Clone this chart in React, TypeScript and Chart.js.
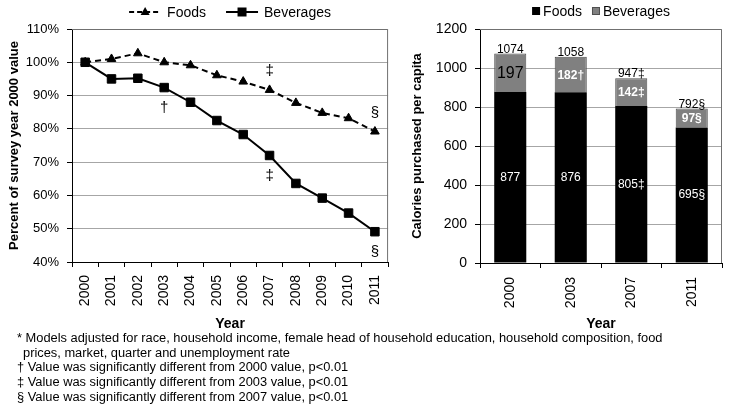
import React, { useEffect, useRef } from 'react';
import { Chart, registerables } from 'chart.js';

Chart.register(...registerables);

const FONT = 'Arial, "Liberation Sans", Helvetica, sans-serif';

// ---- Left chart data (percent of 2000 value) ----
const years = ['2000', '2001', '2002', '2003', '2004', '2005', '2006', '2007', '2008', '2009', '2010', '2011'];
const foodsPct = [100, 101.0, 102.7, 100.0, 99.1, 96.1, 94.2, 91.7, 87.8, 84.8, 83.2, 79.2];
const beveragesPct = [100, 95.0, 95.2, 92.4, 88.0, 82.5, 78.3, 72.0, 63.6, 59.2, 54.7, 49.1];
const pctMin = 40;
const pctMax = 110;
const pctStep = 10;

// significance markers: [seriesIndex, pointIndex, symbol, side]
const lineMarkSeries = [0, 0, 1, 1, 1];
const lineMarkIndex = [7, 11, 3, 7, 11];
const lineMarkText = ['‡', '§', '†', '‡', '§'];
const lineMarkSide = ['above', 'above', 'below', 'below', 'below'];

// ---- Right chart data (calories per capita) ----
const barYears = ['2000', '2003', '2007', '2011'];
const foodsCal = [877, 876, 805, 695];
const beveragesCal = [197, 182, 142, 97];
const foodsCalLabels = ['877', '876', '805‡', '695§'];
const beveragesCalLabels = ['197', '182†', '142‡', '97§'];
const totalCalLabels = ['1074', '1058', '947‡', '792§'];
const calMax = 1200;
const calStep = 200;

const footnotes = [
  '* Models adjusted for race, household income, female head of household education, household composition, food',
  'prices, market, quarter and unemployment rate',
  '† Value was significantly different from 2000 value, p<0.01',
  '‡ Value was significantly different from 2003 value, p<0.01',
  '§ Value was significantly different from 2007 value, p<0.01',
];

const GRID = '#a6a6a6';
const FRAME = '#707070';

const framePlugin = {
  id: 'frame',
  afterDraw(chart: any) {
    const { ctx, chartArea } = chart;
    ctx.save();
    ctx.strokeStyle = FRAME;
    ctx.lineWidth = 1;
    ctx.beginPath();
    ctx.moveTo(chartArea.left, chartArea.top + 0.5);
    ctx.lineTo(chartArea.right - 0.5, chartArea.top + 0.5);
    ctx.lineTo(chartArea.right - 0.5, chartArea.bottom);
    ctx.stroke();
    ctx.restore();
  },
};

const lineLegendPlugin = {
  id: 'lineLegend',
  afterDraw(chart: any) {
    const { ctx, chartArea } = chart;
    ctx.save();
    ctx.font = `14px ${FONT}`;
    const lineLen = 32;
    const gapAfterLine = 6;
    const gapBetween = 20;
    const w1 = ctx.measureText('Foods').width;
    const w2 = ctx.measureText('Beverages').width;
    const total = lineLen + gapAfterLine + w1 + gapBetween + lineLen + gapAfterLine + w2;
    let x = (chartArea.left + chartArea.right) / 2 - total / 2;
    const y = 12;
    // Foods
    ctx.strokeStyle = '#000';
    ctx.fillStyle = '#000';
    ctx.lineWidth = 2;
    ctx.setLineDash([5, 3]);
    ctx.beginPath();
    ctx.moveTo(x, y);
    ctx.lineTo(x + lineLen, y);
    ctx.stroke();
    ctx.setLineDash([]);
    const cx1 = x + lineLen / 2;
    ctx.beginPath();
    ctx.moveTo(cx1, y - 5);
    ctx.lineTo(cx1 + 4.5, y + 3);
    ctx.lineTo(cx1 - 4.5, y + 3);
    ctx.closePath();
    ctx.fill();
    x += lineLen + gapAfterLine;
    ctx.textBaseline = 'middle';
    ctx.textAlign = 'left';
    ctx.fillText('Foods', x, y + 1);
    x += w1 + gapBetween;
    // Beverages
    ctx.beginPath();
    ctx.moveTo(x, y);
    ctx.lineTo(x + lineLen, y);
    ctx.stroke();
    const cx2 = x + lineLen / 2;
    ctx.fillRect(cx2 - 4.5, y - 4.5, 9, 9);
    x += lineLen + gapAfterLine;
    ctx.fillText('Beverages', x, y + 1);
    ctx.restore();
  },
};

const lineMarksPlugin = {
  id: 'lineMarks',
  afterDatasetsDraw(chart: any) {
    const { ctx } = chart;
    ctx.save();
    ctx.font = `15px ${FONT}`;
    ctx.fillStyle = '#000';
    ctx.textAlign = 'center';
    ctx.textBaseline = 'middle';
    for (let i = 0; i < lineMarkText.length; i++) {
      const el = chart.getDatasetMeta(lineMarkSeries[i]).data[lineMarkIndex[i]];
      const dy = lineMarkSide[i] === 'above' ? -19 : 20;
      ctx.fillText(lineMarkText[i], el.x, el.y + dy);
    }
    ctx.restore();
  },
};

const barLegendPlugin = {
  id: 'barLegend',
  afterDraw(chart: any) {
    const { ctx, chartArea } = chart;
    ctx.save();
    ctx.font = `14px ${FONT}`;
    const box = 8;
    const gap = 3;
    const between = 10;
    const w1 = ctx.measureText('Foods').width;
    const w2 = ctx.measureText('Beverages').width;
    const total = box + gap + w1 + between + box + gap + w2;
    let x = (chartArea.left + chartArea.right) / 2 - total / 2;
    const y = 11;
    ctx.textBaseline = 'middle';
    ctx.textAlign = 'left';
    ctx.fillStyle = '#000';
    ctx.fillRect(x, y - box / 2, box, box);
    x += box + gap;
    ctx.fillText('Foods', x, y + 1);
    x += w1 + between;
    ctx.fillStyle = '#808080';
    ctx.fillRect(x, y - box / 2, box, box);
    ctx.strokeStyle = '#505050';
    ctx.lineWidth = 1;
    ctx.strokeRect(x + 0.5, y - box / 2 + 0.5, box - 1, box - 1);
    x += box + gap;
    ctx.fillStyle = '#000';
    ctx.fillText('Beverages', x, y + 1);
    ctx.restore();
  },
};

const barLabelsPlugin = {
  id: 'barLabels',
  afterDatasetsDraw(chart: any) {
    const { ctx } = chart;
    ctx.save();
    ctx.textAlign = 'center';
    ctx.textBaseline = 'middle';
    const mf = chart.getDatasetMeta(0);
    const mb = chart.getDatasetMeta(1);
    mf.data.forEach((bar: any, i: number) => {
      const p = bar.getProps(['x', 'y', 'base'], true);
      ctx.fillStyle = '#fff';
      ctx.font = `12px ${FONT}`;
      ctx.fillText(foodsCalLabels[i], p.x, (p.y + p.base) / 2);
    });
    mb.data.forEach((bar: any, i: number) => {
      const p = bar.getProps(['x', 'y', 'base'], true);
      if (i === 0) {
        ctx.fillStyle = '#000';
        ctx.font = `16px ${FONT}`;
      } else {
        ctx.fillStyle = '#fff';
        ctx.font = `bold 12px ${FONT}`;
      }
      ctx.textBaseline = 'middle';
      ctx.fillText(beveragesCalLabels[i], p.x, (p.y + p.base) / 2 + 1);
      ctx.fillStyle = '#000';
      ctx.font = `12px ${FONT}`;
      ctx.textBaseline = 'alphabetic';
      ctx.fillText(totalCalLabels[i], p.x, p.y - 1);
    });
    ctx.restore();
  },
};

function LineChart() {
  const ref = useRef<HTMLCanvasElement>(null);
  useEffect(() => {
    const chart = new Chart(ref.current as HTMLCanvasElement, {
      type: 'line',
      data: {
        labels: years,
        datasets: [
          {
            label: 'Foods',
            data: foodsPct,
            borderColor: '#000',
            backgroundColor: '#000',
            borderWidth: 2,
            borderDash: [6, 4],
            pointStyle: 'triangle',
            pointRadius: 5,
            pointBorderWidth: 1,
            tension: 0,
          },
          {
            label: 'Beverages',
            data: beveragesPct,
            borderColor: '#000',
            backgroundColor: '#000',
            borderWidth: 2,
            pointStyle: 'rect',
            pointRadius: 6,
            pointBorderWidth: 1,
            tension: 0,
          },
        ],
      },
      options: {
        responsive: false,
        animation: false,
        devicePixelRatio: 1,
        layout: { padding: { left: 0, right: 3, top: 29, bottom: 0 } },
        plugins: { legend: { display: false }, tooltip: { enabled: false } },
        scales: {
          x: {
            type: 'category',
            offset: true,
            grid: { offset: true, drawOnChartArea: false, drawTicks: true, tickLength: 5, tickColor: '#000' },
            border: { display: true, color: '#000', width: 1 },
            ticks: { color: '#000', font: { family: FONT, size: 14 }, minRotation: 90, maxRotation: 90, padding: 8, autoSkip: false },
            title: { display: true, text: 'Year', color: '#000', font: { family: FONT, size: 14, weight: 'bold' }, padding: { top: 0, bottom: 7 } },
            afterFit: (s: any) => { s.height = 78; },
          },
          y: {
            min: pctMin,
            max: pctMax,
            grid: { color: GRID, tickColor: '#000', tickLength: 5 },
            border: { display: true, color: '#000', width: 1 },
            ticks: { stepSize: pctStep, color: '#000', font: { family: FONT, size: 13 }, padding: 8, callback: (v: any) => v + '%' },
            title: { display: true, text: 'Percent of survey year 2000 value', color: '#000', font: { family: FONT, size: 13, weight: 'bold' }, padding: { top: 7, bottom: 0 } },
            afterFit: (s: any) => { s.width = 72; },
          },
        },
      } as any,
      plugins: [framePlugin, lineMarksPlugin, lineLegendPlugin],
    });
    return () => chart.destroy();
  }, []);
  return <canvas ref={ref} width={400} height={340} style={{ position: 'absolute', left: 0, top: 0, width: 400, height: 340 }} />;
}

function BarChart() {
  const ref = useRef<HTMLCanvasElement>(null);
  useEffect(() => {
    const chart = new Chart(ref.current as HTMLCanvasElement, {
      type: 'bar',
      data: {
        labels: barYears,
        datasets: [
          {
            label: 'Foods',
            data: foodsCal,
            backgroundColor: '#000',
            borderColor: '#000',
            borderWidth: 0,
            categoryPercentage: 1,
            barPercentage: 0.53,
          },
          {
            label: 'Beverages',
            data: beveragesCal,
            backgroundColor: '#808080',
            borderColor: '#505050',
            borderWidth: 1,
            categoryPercentage: 1,
            barPercentage: 0.53,
          },
        ],
      },
      options: {
        responsive: false,
        animation: false,
        devicePixelRatio: 1,
        layout: { padding: { left: 0, right: 7, top: 29, bottom: 0 } },
        plugins: { legend: { display: false }, tooltip: { enabled: false } },
        scales: {
          x: {
            stacked: true,
            grid: { offset: true, drawOnChartArea: false, drawTicks: true, tickLength: 5, tickColor: '#000' },
            border: { display: true, color: '#000', width: 1 },
            ticks: { color: '#000', font: { family: FONT, size: 14 }, minRotation: 90, maxRotation: 90, padding: 9 },
            title: { display: true, text: 'Year', color: '#000', font: { family: FONT, size: 14, weight: 'bold' }, padding: { top: 0, bottom: 7 } },
            afterFit: (s: any) => { s.height = 77; },
          },
          y: {
            stacked: true,
            min: 0,
            max: calMax,
            grid: { color: GRID, tickColor: '#000', tickLength: 5 },
            border: { display: true, color: '#000', width: 1 },
            ticks: { stepSize: calStep, color: '#000', font: { family: FONT, size: 14 }, padding: 8, callback: (v: any) => String(v) },
            title: { display: true, text: 'Calories purchased per capita', color: '#000', font: { family: FONT, size: 13, weight: 'bold' }, padding: { top: 10, bottom: 0 } },
            afterFit: (s: any) => { s.width = 80; },
          },
        },
      } as any,
      plugins: [framePlugin, barLabelsPlugin, barLegendPlugin],
    });
    return () => chart.destroy();
  }, []);
  return <canvas ref={ref} width={329} height={340} style={{ position: 'absolute', left: 400, top: 0, width: 329, height: 340 }} />;
}

export default function App() {
  return (
    <div style={{ position: 'fixed', left: 0, top: 0, width: 729, height: 410, background: '#fff', overflow: 'hidden' }}>
      <LineChart />
      <BarChart />
      <div style={{ position: 'absolute', left: 17, top: 331, fontFamily: FONT, fontSize: 12.85, lineHeight: '14.7px', color: '#000', whiteSpace: 'nowrap' }}>
        {footnotes.map((t, i) => (
          <div key={i} style={{ paddingLeft: i === 1 ? 6 : 0 }}>{t}</div>
        ))}
      </div>
    </div>
  );
}
